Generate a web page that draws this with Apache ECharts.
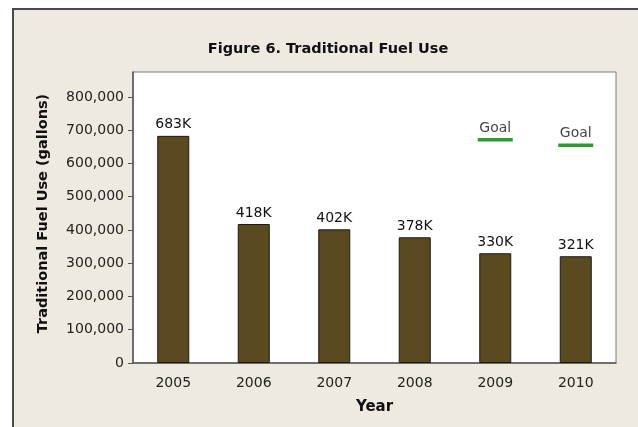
<!DOCTYPE html>
<html>
<head>
<meta charset="utf-8">
<script src="https://cdn.jsdelivr.net/npm/echarts@6/dist/echarts.min.js"></script>
<style>
  html, body { margin: 0; padding: 0; background: #fff; overflow: hidden; }
  #chart6 { width: 638px; height: 427px; }
</style>
</head>
<body>
<div id="chart6"></div>
<script>
// fuel use by year, gallons
var years = ['2005', '2006', '2007', '2008', '2009', '2010'];
var fuelUse = [683000, 418000, 402000, 378000, 330000, 321000];
// goal markers (only last two years)
var goals = [null, null, null, null, 671000, 655000];

var font = 'DejaVu Sans';

chart6 = {
  backgroundColor: '#fff',
  animation: false,
  textStyle: { fontFamily: font },
  graphic: [
    {
      type: 'rect',
      z: -10,
      shape: { x: 13, y: 9, width: 640, height: 430 },
      style: { fill: '#eeeae0' }
    },
    {
      type: 'polyline',
      z: -9,
      shape: { points: [[13, 440], [13, 9], [640, 9]] },
      style: { stroke: '#4a4a4a', lineWidth: 2, fill: null }
    },
    {
      type: 'text',
      x: 328,
      y: 49,
      style: {
        text: 'Figure 6. Traditional Fuel Use',
        font: 'bold 14.5px "DejaVu Sans"',
        fill: '#111',
        align: 'center',
        verticalAlign: 'middle'
      }
    }
  ],
  grid: {
    left: 133,
    right: 22,
    top: 72,
    bottom: 64,
    show: true,
    backgroundColor: '#fff',
    borderColor: '#7a7a7a',
    borderWidth: 1
  },
  xAxis: {
    type: 'category',
    data: years,
    name: 'Year',
    nameLocation: 'middle',
    nameGap: 37,
    nameTextStyle: { fontWeight: 'bold', fontSize: 15, color: '#111' },
    axisLine: { lineStyle: { color: '#555', width: 1.5 } },
    axisTick: { alignWithLabel: true, length: 5, lineStyle: { color: '#555' } },
    axisLabel: { color: '#222', fontSize: 14, margin: 13 }
  },
  yAxis: {
    type: 'value',
    min: 0,
    max: 875000,
    interval: 100000,
    name: 'Traditional Fuel Use (gallons)',
    nameLocation: 'middle',
    nameGap: 82,
    nameTextStyle: { fontWeight: 'bold', fontSize: 14.5, color: '#111', padding: [0, 0, 0, 8] },
    splitLine: { show: false },
    axisLine: { show: true, lineStyle: { color: '#555', width: 1.5 } },
    axisTick: { show: true, length: 5, lineStyle: { color: '#555' } },
    axisLabel: {
      color: '#222',
      fontSize: 14,
      margin: 9,
      showMaxLabel: false,
      formatter: function (v) { return v.toLocaleString('en-US'); }
    }
  },
  series: [
    {
      name: 'Fuel use',
      type: 'bar',
      data: fuelUse,
      barWidth: 32,
      itemStyle: { color: '#5b4a1f', borderColor: '#1c1a14', borderWidth: 1 },
      label: {
        show: true,
        position: 'top',
        distance: 4,
        color: '#111',
        fontSize: 14,
        formatter: function (p) { return Math.round(p.value / 1000) + 'K'; }
      }
    },
    {
      name: 'Goal',
      type: 'scatter',
      data: goals,
      symbol: 'rect',
      symbolSize: [35, 3.5],
      itemStyle: { color: '#008000' },
      label: {
        show: true,
        position: 'top',
        distance: 3,
        color: '#111',
        fontSize: 14,
        formatter: 'Goal'
      }
    }
  ]
};
echarts.init(document.getElementById('chart6')).setOption(chart6);
</script>
</body>
</html>
